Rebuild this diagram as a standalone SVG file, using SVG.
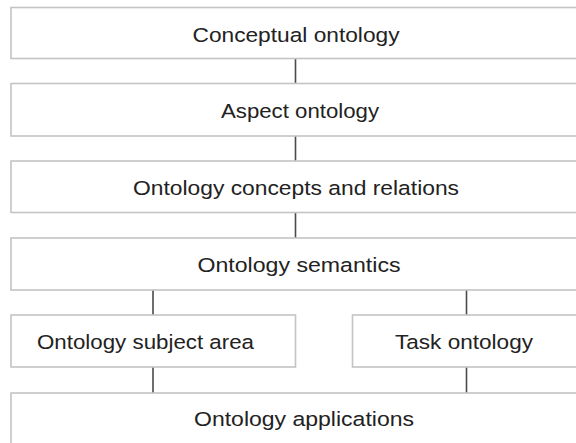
<svg xmlns="http://www.w3.org/2000/svg" width="576" height="443" viewBox="0 0 576 443">
<style>
.box{fill:#ffffff;stroke:#c4c4c4;stroke-width:1.6}
.lbl{font-family:"Liberation Sans",Arial,sans-serif;font-size:20.5px;fill:#222222}
.con{stroke:#4a4a4a;stroke-width:1.6;fill:none}
</style>
<rect width="576" height="443" fill="#ffffff"/>
<g id="connectors">
<line class="con" x1="295.5" y1="58.5" x2="295.5" y2="83.5"/>
<line class="con" x1="295.5" y1="136" x2="295.5" y2="161"/>
<line class="con" x1="295.5" y1="212.5" x2="295.5" y2="238"/>
<line class="con" x1="153" y1="290" x2="153" y2="315"/>
<line class="con" x1="466.5" y1="290" x2="466.5" y2="315"/>
<line class="con" x1="153" y1="367" x2="153" y2="393"/>
<line class="con" x1="466.5" y1="367" x2="466.5" y2="393"/>
</g>
<g id="conceptual">
<rect class="box" x="11" y="7.5" width="590" height="51"/>
<text class="lbl" x="192.5" y="41.5" textLength="207" lengthAdjust="spacingAndGlyphs">Conceptual  ontology</text>
</g>
<g id="aspect">
<rect class="box" x="11" y="83.5" width="590" height="52.5"/>
<text class="lbl" x="221" y="117.5" textLength="158" lengthAdjust="spacingAndGlyphs">Aspect ontology</text>
</g>
<g id="concepts">
<rect class="box" x="11" y="161" width="590" height="51.5"/>
<text class="lbl" x="133" y="194.5" textLength="326" lengthAdjust="spacingAndGlyphs">Ontology  concepts and relations</text>
</g>
<g id="semantics">
<rect class="box" x="11" y="238" width="590" height="52"/>
<text class="lbl" x="197.5" y="271.5" textLength="203" lengthAdjust="spacingAndGlyphs">Ontology  semantics</text>
</g>
<g id="subject">
<rect class="box" x="11" y="315" width="284.5" height="52"/>
<text class="lbl" x="37" y="348.5" textLength="217" lengthAdjust="spacingAndGlyphs">Ontology subject area</text>
</g>
<g id="task">
<rect class="box" x="352.5" y="315" width="250" height="52"/>
<text class="lbl" x="395" y="348.5" textLength="138" lengthAdjust="spacingAndGlyphs">Task  ontology</text>
</g>
<g id="applications">
<rect class="box" x="11" y="393" width="590" height="60"/>
<text class="lbl" x="194" y="426" textLength="220" lengthAdjust="spacingAndGlyphs">Ontology  applications</text>
</g>
</svg>
